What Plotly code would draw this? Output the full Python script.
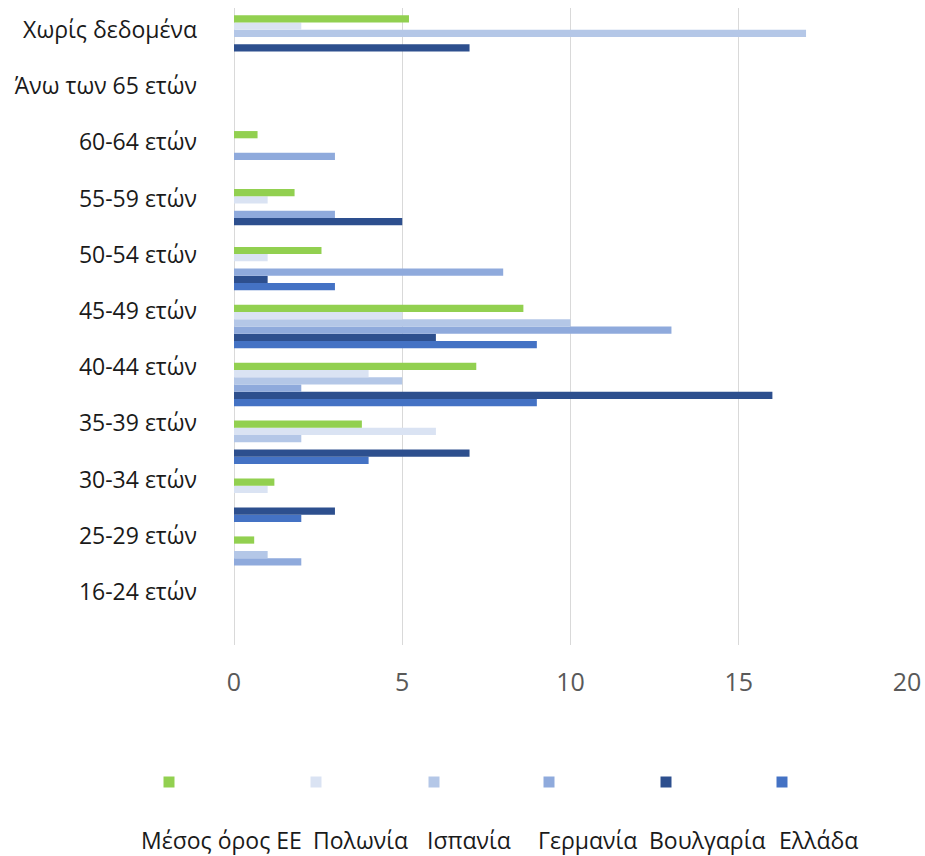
import plotly.graph_objects as go

# Age groups, listed bottom to top as they appear on the axis
age_groups = ["16-24 ετών", "25-29 ετών", "30-34 ετών", "35-39 ετών", "40-44 ετών",
              "45-49 ετών", "50-54 ετών", "55-59 ετών", "60-64 ετών",
              "Άνω των 65 ετών", "Χωρίς δεδομένα"]

series_names = ["Μέσος όρος ΕΕ", "Πολωνία", "Ισπανία", "Γερμανία", "Βουλγαρία", "Ελλάδα"]

eu_avg   = [0, 0.6, 1.2, 3.8, 7.2, 8.6, 2.6, 1.8, 0.7, 0, 5.2]
poland   = [0, 0,   1,   6,   4,   5,   1,   1,   0,   0, 2]
spain    = [0, 1,   0,   2,   5,   10,  0,   0,   0,   0, 17]
germany  = [0, 2,   0,   0,   2,   13,  8,   3,   3,   0, 0]
bulgaria = [0, 0,   3,   7,   16,  6,   1,   5,   0,   0, 7]
greece   = [0, 0,   2,   4,   9,   9,   3,   0,   0,   0, 0]

x_ticks = [0, 5, 10, 15, 20]

colors = ["#92d050", "#dae3f3", "#b4c7e7", "#8faadc", "#2d4f8e", "#4472c4"]
values = [eu_avg, poland, spain, germany, bulgaria, greece]

W, H = 925, 856
ML, MR, MT, MB = 234, 18, 8, 211
PW, PH = W - ML - MR, H - MT - MB


def px_x(px):
    return (px - ML) / PW


def px_y(py):
    return (H - MB - py) / PH


fig = go.Figure()
# Horizontal grouped bars stack the first trace lowest, so add in reverse
for name, vals, col in reversed(list(zip(series_names, values, colors))):
    fig.add_trace(go.Bar(
        y=age_groups, x=vals, name=name, orientation="h",
        marker=dict(color=col, line=dict(width=0)),
        showlegend=False, hoverinfo="skip",
    ))

# Category labels sit on their own slightly tighter axis
fig.add_trace(go.Scatter(x=[None], y=[None], yaxis="y2", showlegend=False,
                         hoverinfo="skip"))

# Legend drawn by hand: swatches on one row, names on a row below
swatch_x = [169, 316, 434, 549, 666, 782]
label_x = [221, 360, 469, 587, 707, 818]
sw = 5.5
for sx, col in zip(swatch_x, colors):
    fig.add_shape(type="rect", xref="paper", yref="paper",
                  x0=px_x(sx - sw), x1=px_x(sx + sw),
                  y0=px_y(782 + sw), y1=px_y(782 - sw),
                  fillcolor=col, line=dict(width=0))
for lx, name in zip(label_x, series_names):
    fig.add_annotation(xref="paper", yref="paper", x=px_x(lx), y=px_y(840),
                       text=name, showarrow=False, xanchor="center", yanchor="middle",
                       font=dict(size=23, color="#1a1a1a", family="Open Sans"))

# Label axis: lowest label 592px down, 56.2px between labels
label_step = 56.2
lo = -(H - MB - 592) / label_step
hi = lo + PH / label_step

fig.update_layout(
    width=W, height=H,
    margin=dict(l=ML, r=MR, t=MT, b=MB),
    paper_bgcolor="white", plot_bgcolor="white",
    barmode="group", bargap=0.25, bargroupgap=0,
    font=dict(family="Open Sans", color="#1a1a1a"),
    yaxis2=dict(
        overlaying="y", side="left", type="linear", range=[lo, hi],
        tickvals=list(range(len(age_groups))), ticktext=age_groups,
        showgrid=False, zeroline=False, showline=False, ticks="",
        tickfont=dict(size=23, color="#1a1a1a", family="Open Sans"),
        ticklabelstandoff=36, fixedrange=True, automargin=False,
    ),
)
fig.update_xaxes(
    range=[0, 20], tickvals=x_ticks, ticktext=[str(t) for t in x_ticks],
    showgrid=True, gridcolor="#d9d9d9", gridwidth=1,
    zeroline=True, zerolinecolor="#d9d9d9", zerolinewidth=1,
    showline=False, ticks="", automargin=False,
    tickfont=dict(size=25, color="#595959", family="Open Sans"),
    ticklabelstandoff=20,
)
fig.layout.yaxis.update(categoryorder="array", categoryarray=age_groups,
                        showgrid=False, zeroline=False, showline=False,
                        ticks="", showticklabels=False, automargin=False)

fig.write_html("out.html")
